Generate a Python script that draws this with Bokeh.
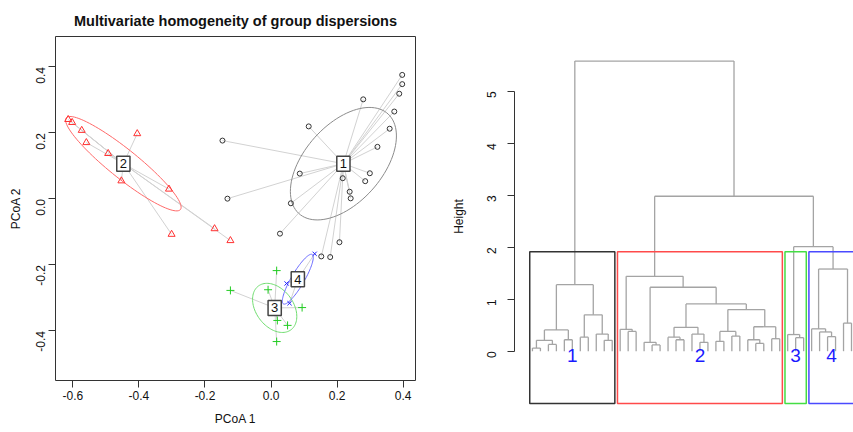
import math
import numpy as np
from bokeh.plotting import figure
from bokeh.models import FixedTicker, PrintfTickFormatter, Range1d
from bokeh.layouts import row
from bokeh.embed import file_html
from bokeh.resources import INLINE
from bokeh.core.properties import value

FONT = "Liberation Sans"

# ---------------- PCoA data (betadisper) ----------------
g1_x = [0.397, 0.397, 0.388, 0.279, 0.373, 0.359, 0.114, -0.147, 0.322, 0.087, 0.299,
        0.217, 0.285, 0.238, 0.241, -0.132, 0.060, 0.027, 0.207, 0.152, 0.179]
g1_y = [0.376, 0.348, 0.319, 0.302, 0.265, 0.213, 0.220, 0.177, 0.158, 0.077, 0.078,
        0.063, 0.054, 0.022, 0.002, 0.001, -0.013, -0.105, -0.131, -0.174, -0.176]
g2_x = [-0.614, -0.602, -0.573, -0.559, -0.405, -0.493, -0.453, -0.309, -0.171, -0.301, -0.123]
g2_y = [0.241, 0.232, 0.208, 0.171, 0.198, 0.138, 0.055, 0.030, -0.090, -0.107, -0.126]
g3_x = [0.017, -0.123, -0.009, 0.094, 0.019, 0.050, 0.017]
g3_y = [-0.217, -0.277, -0.275, -0.329, -0.368, -0.383, -0.432]
g4_x = [0.132, 0.047, 0.056]
g4_y = [-0.166, -0.256, -0.316]
cent_x = [0.219, -0.447, 0.011, 0.081]
cent_y = [0.107, 0.107, -0.330, -0.243]
group_labels = ["1", "2", "3", "4"]
x_ticks = [-0.6, -0.4, -0.2, 0.0, 0.2, 0.4]
y_ticks = [-0.4, -0.2, 0.0, 0.2, 0.4]

# ---------------- Dendrogram data (hclust style) ----------------
n_leaves = 41
merge_a = [-1, -3, 1, -5, 3, -7, -10, -9, 6, 5,
           -13, -12, -16, -15, -19, -18, -22, -21, 16, -24,
           -26, 20, -29, -28, -31, 24, 22, 19, 14, 12,
           -34, -33, -38, -37, -36, -40, 35, 32, 30, 10]
merge_b = [-2, -4, 2, -6, 4, -8, -11, 7, 8, 9,
           -14, 11, -17, 13, -20, 15, -23, 17, 18, -25,
           -27, 21, -30, 23, -32, 25, 26, 27, 28, 29,
           -35, 31, -39, 33, 34, -41, 36, 37, 38, 39]
merge_h = [0.06, 0.13, 0.21, 0.22, 0.41, 0.27, 0.21, 0.33, 0.70, 1.28,
           0.38, 0.42, 0.12, 0.17, 0.22, 0.27, 0.17, 0.33, 0.46, 0.19,
           0.29, 0.38, 0.15, 0.22, 0.24, 0.47, 0.80, 0.91, 1.23, 1.44,
           0.26, 0.32, 0.28, 0.37, 0.43, 0.54, 1.58, 2.01, 2.98, 5.58]
cluster_sizes = [11, 21, 3, 6]
cluster_names = ["1", "2", "3", "4"]
cut_height = 1.91
h_ticks = [0, 1, 2, 3, 4, 5]

# ================= Left: PCoA plot =================
p1 = figure(width=448, height=432, output_backend="svg", toolbar_location=None,
            x_range=Range1d(-0.6524, 0.4372), y_range=Range1d(-0.5500, 0.4924),
            min_border_left=55, min_border_right=33, min_border_top=36, min_border_bottom=52,
            title="Multivariate homogeneity of group dispersions")
p1.frame_align = False
p1.title.text_font = FONT
p1.title.text_font_size = "14.5px"
p1.title.text_font_style = "bold"
p1.title.text_color = "#111111"
p1.title.align = "center"
p1.title.standoff = 16
p1.grid.visible = False
p1.outline_line_color = "#333333"
p1.outline_line_width = 1

for ax in (p1.xaxis[0], p1.yaxis[0]):
    ax.axis_line_color = None
    ax.major_tick_out = 7
    ax.major_tick_in = 0
    ax.minor_tick_line_color = None
    ax.major_tick_line_color = "#333333"
    ax.major_label_text_font = FONT
    ax.major_label_text_font_size = "12px"
    ax.major_label_text_color = "#111111"
    ax.axis_label_text_font = FONT
    ax.axis_label_text_font_size = "12px"
    ax.axis_label_text_font_style = "normal"
    ax.axis_label_text_color = "#111111"
    ax.formatter = PrintfTickFormatter(format="%.1f")
p1.xaxis[0].ticker = FixedTicker(ticks=x_ticks)
p1.yaxis[0].ticker = FixedTicker(ticks=y_ticks)
p1.xaxis[0].axis_label = "PCoA 1"
p1.yaxis[0].axis_label = "PCoA 2"
p1.xaxis[0].major_label_standoff = 3
p1.xaxis[0].axis_label_standoff = 9
p1.yaxis[0].major_label_orientation = math.pi / 2
p1.yaxis[0].major_label_standoff = 8
p1.yaxis[0].axis_label_standoff = 6

groups_x = [g1_x, g2_x, g3_x, g4_x]
groups_y = [g1_y, g2_y, g3_y, g4_y]
ell_colors = ["#8c8c8c", "#ff6a6a", "#6fdc6f", "#6a6aff"]
pt_colors = ["#333333", "#ff3030", "#22cc22", "#2020ff"]
markers = ["circle", "triangle", "cross", "x"]
sizes = [5, 7, 8, 6]

# segments from points to centroid
for gx, gy, cx, cy in zip(groups_x, groups_y, cent_x, cent_y):
    p1.segment(x0=gx, y0=gy, x1=[cx] * len(gx), y1=[cy] * len(gy),
               line_color="#d2d2d2", line_width=1)

# standard deviation ellipses (cov around centroid)
theta = np.linspace(0, 2 * np.pi, 101)
circle = np.column_stack([np.cos(theta), np.sin(theta)])
for gx, gy, cx, cy, col in zip(groups_x, groups_y, cent_x, cent_y, ell_colors):
    pts = np.column_stack([gx, gy]) - np.array([cx, cy])
    cov = pts.T @ pts / (len(gx) - 1)
    Q = np.linalg.cholesky(cov).T
    xy = circle @ Q + np.array([cx, cy])
    p1.line(xy[:, 0], xy[:, 1], line_color=col, line_width=1)

for gx, gy, col, mk, sz in zip(groups_x, groups_y, pt_colors, markers, sizes):
    p1.scatter(gx, gy, marker=mk, size=sz, fill_color=None, line_color=col, line_width=1)

p1.text(x=cent_x, y=cent_y, text=group_labels, text_align="center", text_baseline="middle",
        text_font=value(FONT), text_font_size="13px", text_color="#111111",
        background_fill_color="white", border_line_color="#444444", border_line_width=1.5,
        padding=3)

# ================= Right: dendrogram =================
p2 = figure(width=405, height=432, output_backend="svg", toolbar_location=None,
            x_range=Range1d(-1.25, 41.25), y_range=Range1d(-1.5635, 6.744),
            x_axis_location=None,
            min_border_left=65, min_border_right=0, min_border_top=0, min_border_bottom=0)
p2.frame_align = False
p2.grid.visible = False
p2.outline_line_color = None
ya = p2.yaxis[0]
ya.ticker = FixedTicker(ticks=h_ticks)
ya.bounds = (0, 5)
ya.axis_line_color = "#333333"
ya.major_tick_line_color = "#333333"
ya.major_tick_out = 7
ya.major_tick_in = 0
ya.minor_tick_line_color = None
ya.major_label_orientation = math.pi / 2
ya.major_label_text_font = FONT
ya.major_label_text_font_size = "12px"
ya.major_label_text_color = "#111111"
ya.major_label_standoff = 16
ya.axis_label = "Height"
ya.axis_label_text_font = FONT
ya.axis_label_text_font_size = "12px"
ya.axis_label_text_font_style = "normal"
ya.axis_label_text_color = "#111111"
ya.axis_label_standoff = 14

pos = {}
sx0, sy0, sx1, sy1 = [], [], [], []
for k, (a, b, h) in enumerate(zip(merge_a, merge_b, merge_h), start=1):
    xa, ha = (float(-a), 0.0) if a < 0 else pos[a]
    xb, hb = (float(-b), 0.0) if b < 0 else pos[b]
    sx0 += [xa, xa, xb]
    sy0 += [ha, h, h]
    sx1 += [xa, xb, xb]
    sy1 += [h, h, hb]
    pos[k] = ((xa + xb) / 2, h)
p2.segment(x0=sx0, y0=sy0, x1=sx1, y1=sy1, line_color="#a4a4a4", line_width=1.3)

box_colors = ["#333333", "#ff4a4a", "#44dd44", "#4a4aff"]
cum = np.cumsum([0] + cluster_sizes)
lefts = [cum[i] + 0.66 for i in range(len(cluster_sizes))]
rights = [cum[i + 1] + 0.33 for i in range(len(cluster_sizes))]
p2.quad(left=lefts, right=rights, bottom=[-1.006] * 4, top=[cut_height] * 4,
        fill_color=None, line_color=box_colors, line_width=1.5)
p2.text(x=[(l + r) / 2 for l, r in zip(lefts, rights)], y=[-0.08] * 4, text=cluster_names,
        text_align="center", text_baseline="middle", text_font=value(FONT),
        text_font_size="19px", text_color="#1a1aff")

layout = row(p1, p2)
open("out.html", "w").write(file_html(layout, INLINE))
